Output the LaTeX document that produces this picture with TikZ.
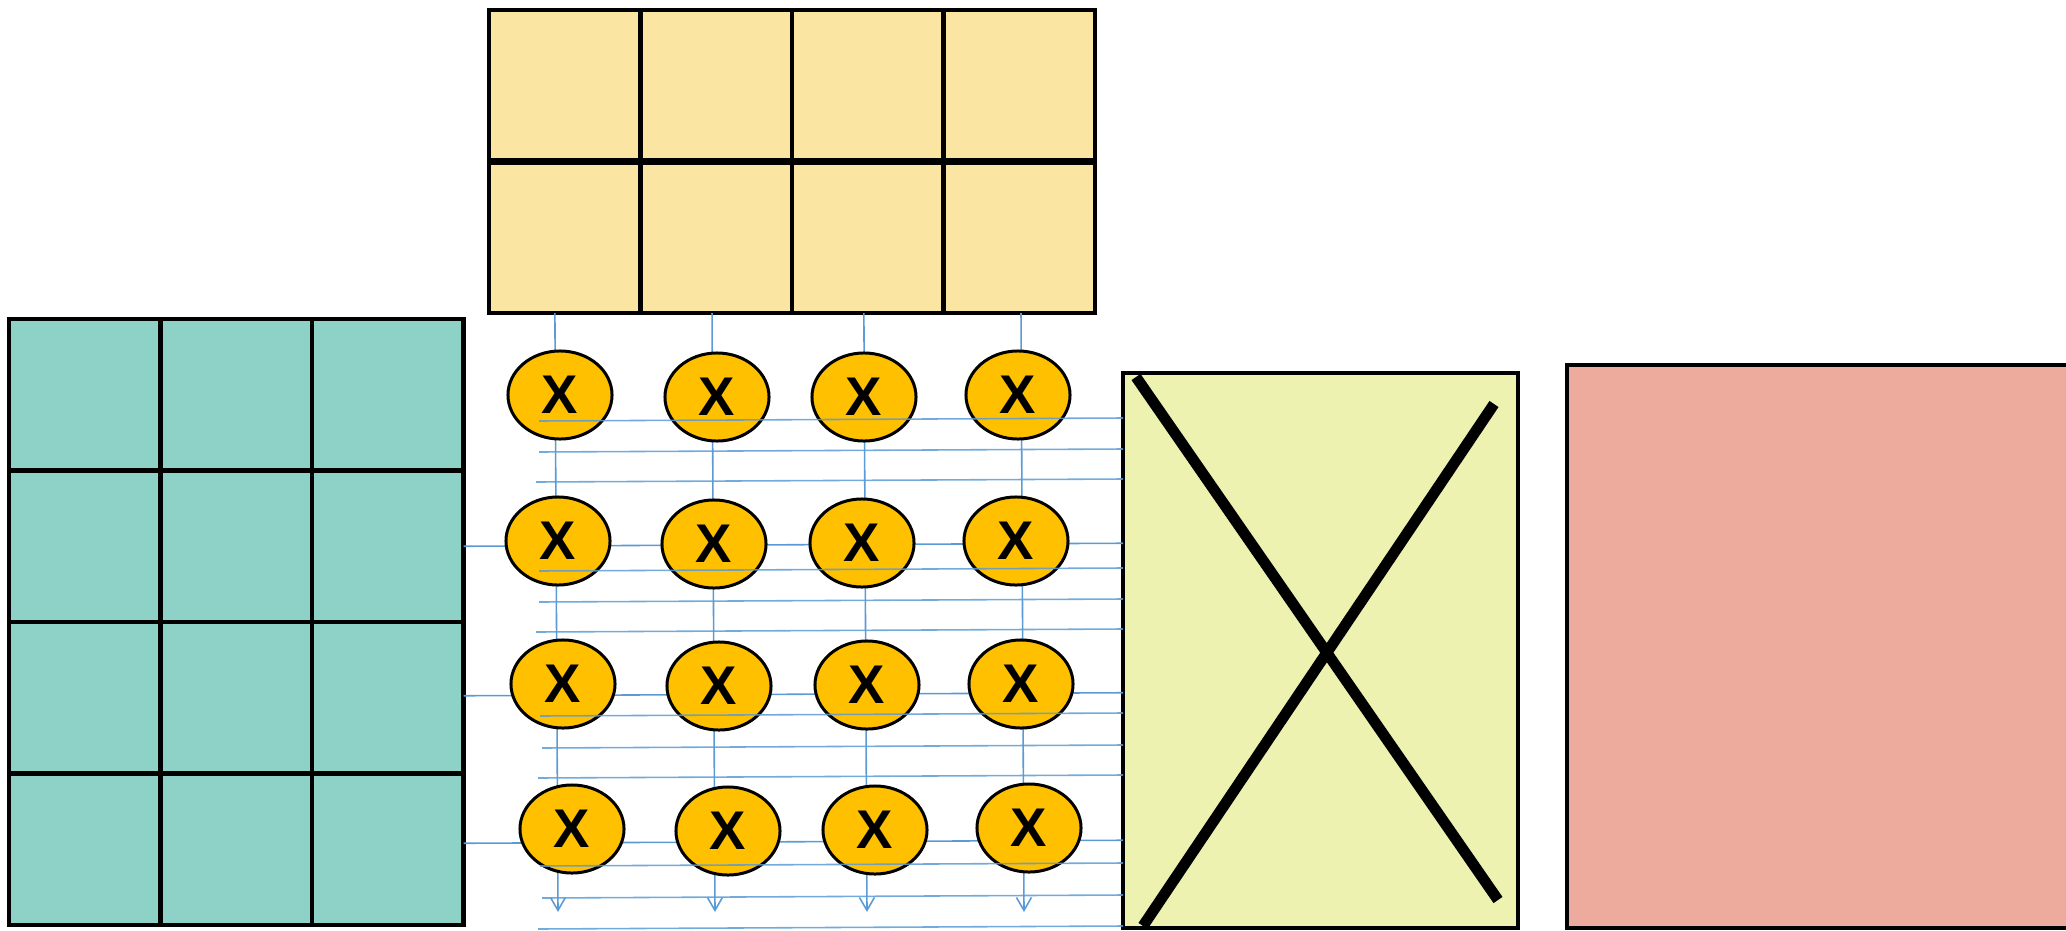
\documentclass[tikz,border=0pt]{standalone}
\usepackage{fontspec}
\setmainfont{Liberation Sans}
\usetikzlibrary{arrows.meta,shapes.geometric,calc}
\usepackage{xcolor}
\definecolor{Ink}{HTML}{000000}
\definecolor{Teal}{HTML}{8ED1C6}
\definecolor{Sand}{HTML}{FBE5A3}
\definecolor{Amber}{HTML}{FFC000}
\definecolor{Lime}{HTML}{EDF2B1}
\definecolor{Salmon}{HTML}{EDAB9E}
\definecolor{Wire}{HTML}{5B9BD5}

\begin{document}
\begin{tikzpicture}[x=0.01cm,y=-0.01cm,
    tcell/.style={draw=Ink,line width=1.3pt,fill=Teal,minimum width=1.515cm,minimum height=1.515cm,inner sep=0pt,outer sep=0pt},
    wcell/.style={tcell,fill=Sand},
    mul/.style={ellipse,draw=Ink,line width=0.85pt,fill=Amber,minimum width=1.04cm,minimum height=0.88cm,inner sep=0pt,font=\fontsize{15.5}{15.5}\selectfont\bfseries},
    wire/.style={draw=Wire,line width=0.45pt},
    down/.style={wire,-{Straight Barb[length=1.3mm,width=1.5mm]}},
    over/.style={wire,opacity=0.85},
    outbox/.style={draw=Ink,line width=1.1pt,inner sep=0pt,outer sep=0pt,anchor=north west},
    cross/.style={draw=Ink,line width=3.1pt}
  ]
    \useasboundingbox (0,0) rectangle (2066,930);
    \clip (0,0) rectangle (2066,930);
    \foreach \r in {1,2} \foreach \c in {1,...,4}
      \node[wcell] (w-\r-\c) at ({489+151.5*(\c-0.5)},{10+151.5*(\r-0.5)}) {};
    \draw[Ink,line width=1.9pt] (w-2-1.north west) -- (w-2-4.north east);
    \foreach \r in {1,...,4} \foreach \c in {1,2,3}
      \node[tcell] (t-\r-\c) at ({9+151.5*(\c-0.5)},{319+151.5*(\r-0.5)}) {};
    \node[outbox,fill=Lime,minimum width=3.95cm,minimum height=5.55cm] (ob) at (1123,373) {};
    \node[outbox,fill=Salmon,minimum width=5.2cm,minimum height=5.63cm] (acc) at (1567,365) {};
    \draw[cross] (1136,377) -- (1498,900);
    \draw[cross] (1494,404) -- (1143,926);
    \foreach \c/\dx/\xb in {1/-2.8/558,2/-1.2/715,3/-1.1/867,4/0.5/1024} {
      \coordinate (v\c) at (\xb,912);
      \draw[down] ([xshift=\dx pt]w-2-\c.south) -- (v\c);
    }
    \foreach \r/\dy in {2/0,3/-2,4/-6}
      \draw[wire] ($(t-\r-3.east)+(0,\dy)$) -- ($(t-\r-3.east -| ob.west)+(0,\dy-3)$);
    \foreach \r/\c/\x/\y in {1/1/560/395,1/2/717/397,1/3/864/397,1/4/1018/395,
        2/1/558/541,2/2/714/544,2/3/862/543,2/4/1016/541,
        3/1/563/684,3/2/719/686,3/3/867/685,3/4/1021/684,
        4/1/572/829,4/2/728/831,4/3/875/830,4/4/1029/828}
      \node[mul] (m-\r-\c) at (\x,\y) {X};
    \foreach \i/\x/\y in {1/539/421,2/539/452,3/536/482,4/539/571,5/539/602,6/536/632,
        7/540/716,8/542/748,9/538/778,10/540/866,11/542/898,12/538/929} {
      \coordinate (h\i) at (\x,\y);
      \draw[over] (h\i) -- ($(h\i -| ob.west)+(0,-3)$);
    }
  \end{tikzpicture}
\end{document}
